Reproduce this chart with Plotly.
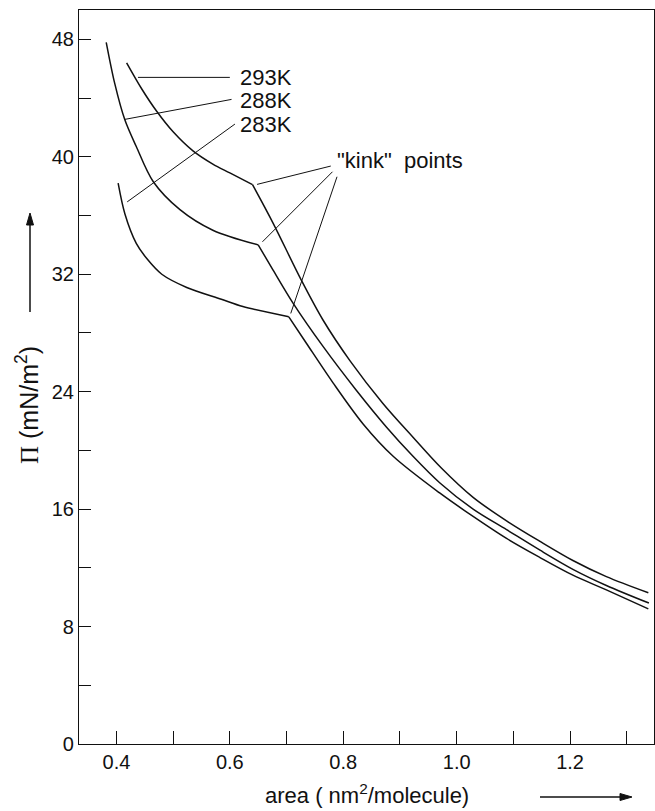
import plotly.graph_objects as go

# ---- data ----
area_293 = [0.418, 0.445, 0.471, 0.500, 0.535, 0.570, 0.600, 0.640, 0.676, 0.726, 0.764, 0.812,
            0.870, 0.923, 0.973, 1.029, 1.088, 1.147, 1.205, 1.264, 1.338]
pi_293 = [46.4, 44.6, 43.1, 41.7, 40.4, 39.5, 38.9, 38.1, 35.5, 31.6, 28.9, 26.1,
          23.2, 20.9, 18.8, 16.8, 15.2, 13.8, 12.5, 11.4, 10.3]

area_288 = [0.382, 0.397, 0.415, 0.435, 0.465, 0.512, 0.570, 0.650, 0.676, 0.712, 0.764, 0.823,
            0.876, 0.923, 0.970, 1.029, 1.088, 1.147, 1.205, 1.264, 1.339]
pi_288 = [47.8, 45.0, 42.5, 40.7, 38.3, 36.4, 35.0, 34.0, 32.3, 30.0, 27.1, 24.1,
          21.6, 19.6, 17.8, 16.0, 14.6, 13.2, 11.9, 10.8, 9.6]

area_283 = [0.403, 0.415, 0.435, 0.455, 0.480, 0.524, 0.585, 0.623, 0.704, 0.735, 0.782, 0.835,
            0.888, 0.970, 1.029, 1.088, 1.147, 1.205, 1.264, 1.338]
pi_283 = [38.2, 36.1, 34.1, 33.0, 32.0, 31.1, 30.3, 29.8, 29.1, 27.3, 24.6, 21.8,
          19.6, 17.1, 15.5, 14.0, 12.7, 11.5, 10.5, 9.2]

# index of the "kink" point in each series
kink_index = [7, 7, 8]

series_labels = ["293K", "288K", "283K"]
kink_label = '"kink"  points'

x_tick_vals = [0.4, 0.6, 0.8, 1.0, 1.2]
x_tick_text = ["0.4", "0.6", "0.8", "1.0", "1.2"]
y_tick_vals = [0, 8, 16, 24, 32, 40, 48]
y_tick_text = ["0", "8", "16", "24", "32", "40", "48"]

FONT = "Liberation Sans"
BLACK = "#111111"

fig = go.Figure()

for xs, ys, k in [(area_293, pi_293, kink_index[0]),
                  (area_288, pi_288, kink_index[1]),
                  (area_283, pi_283, kink_index[2])]:
    # before and after the kink, drawn as smooth pieces meeting at a sharp corner
    for seg in (slice(0, k + 1), slice(k, None)):
        fig.add_trace(go.Scatter(x=xs[seg], y=ys[seg], mode="lines",
                                 line=dict(color=BLACK, width=1.5, shape="spline",
                                           smoothing=0.9),
                                 showlegend=False, hoverinfo="skip"))

# ---- leader lines (annotation geometry) ----
label_leaders = [
    ((0.438, 45.41), (0.600, 45.41)),
    ((0.415, 42.55), (0.603, 43.91)),
    ((0.419, 36.93), (0.609, 42.23)),
]
kink_leaders = [
    ((0.648, 38.12), (0.778, 39.37)),
    ((0.6575, 34.21), (0.781, 38.98)),
    ((0.7074, 29.33), (0.789, 38.64)),
]
for (a, b) in label_leaders + kink_leaders:
    fig.add_trace(go.Scatter(x=[a[0], b[0]], y=[a[1], b[1]], mode="lines",
                             line=dict(color=BLACK, width=1), showlegend=False,
                             hoverinfo="skip"))

label_y = [45.43, 43.86, 42.23]
for txt, yv in zip(series_labels, label_y):
    fig.add_annotation(x=0.614, y=yv, text=txt, showarrow=False, xanchor="left",
                       yanchor="middle", font=dict(family=FONT, size=22, color=BLACK))

fig.add_annotation(x=0.785, y=39.78, text=kink_label, showarrow=False, xanchor="left",
                   yanchor="middle", font=dict(family=FONT, size=22, color=BLACK))

# ---- axis titles ----
fig.add_annotation(xref="paper", yref="paper", x=0.32, y=-0.068,
                   text="area ( nm<sup>2</sup>/molecule)", showarrow=False,
                   xanchor="left", yanchor="middle",
                   font=dict(family=FONT, size=22, color=BLACK))
fig.add_annotation(xref="paper", yref="paper", x=-0.0904, y=0.4619,
                   text="<span style='font-family:Liberation Serif'>Π</span> (mN/m<sup>2</sup>)",
                   showarrow=False, textangle=-90, xanchor="center", yanchor="middle",
                   font=dict(family=FONT, size=25, color=BLACK))

# ---- arrows next to the axis titles (pixel geometry converted to paper coords) ----
PW, PH, L, B = 575.0, 734.0, 79.0, 744.0
def px(xp):
    return (xp - L) / PW
def py(yp):
    return (B - yp) / PH

# x arrow: shaft 540 -> 624, head tip at 632, y=797
fig.add_shape(type="line", xref="paper", yref="paper", x0=px(540), y0=py(797),
              x1=px(624), y1=py(797), line=dict(color=BLACK, width=1.5))
fig.add_shape(type="path", xref="paper", yref="paper",
              path=f"M {px(632)} {py(797)} L {px(620)} {py(793.5)} L {px(620)} {py(800.5)} Z",
              fillcolor=BLACK, line=dict(color=BLACK, width=1))
# y arrow: shaft 312 -> 221, head tip at 213, x=30
fig.add_shape(type="line", xref="paper", yref="paper", x0=px(30), y0=py(312),
              x1=px(30), y1=py(221), line=dict(color=BLACK, width=1.5))
fig.add_shape(type="path", xref="paper", yref="paper",
              path=f"M {px(30)} {py(213)} L {px(26.5)} {py(225)} L {px(33.5)} {py(225)} Z",
              fillcolor=BLACK, line=dict(color=BLACK, width=1))

fig.update_xaxes(range=[0.334, 1.348], tickvals=x_tick_vals, ticktext=x_tick_text,
                 ticks="inside", ticklen=13, tickwidth=1, tickcolor=BLACK,
                 minor=dict(dtick=0.1, tick0=0.0, ticks="inside", ticklen=13, tickwidth=1,
                            tickcolor=BLACK, showgrid=False),
                 showline=True, linecolor=BLACK, linewidth=1.2, mirror=True,
                 showgrid=False, zeroline=False,
                 tickfont=dict(family=FONT, size=20, color=BLACK))
fig.update_yaxes(range=[0, 50], tickvals=y_tick_vals, ticktext=y_tick_text,
                 ticks="inside", ticklen=12, tickwidth=1, tickcolor=BLACK,
                 minor=dict(dtick=4, tick0=0, ticks="inside", ticklen=12, tickwidth=1,
                            tickcolor=BLACK, showgrid=False),
                 showline=True, linecolor=BLACK, linewidth=1.2, mirror=True,
                 showgrid=False, zeroline=False,
                 tickfont=dict(family=FONT, size=20, color=BLACK))

fig.update_layout(width=655, height=811, margin=dict(l=79, r=1, t=10, b=67),
                  paper_bgcolor="white", plot_bgcolor="white", showlegend=False)

fig.write_html("out.html")
